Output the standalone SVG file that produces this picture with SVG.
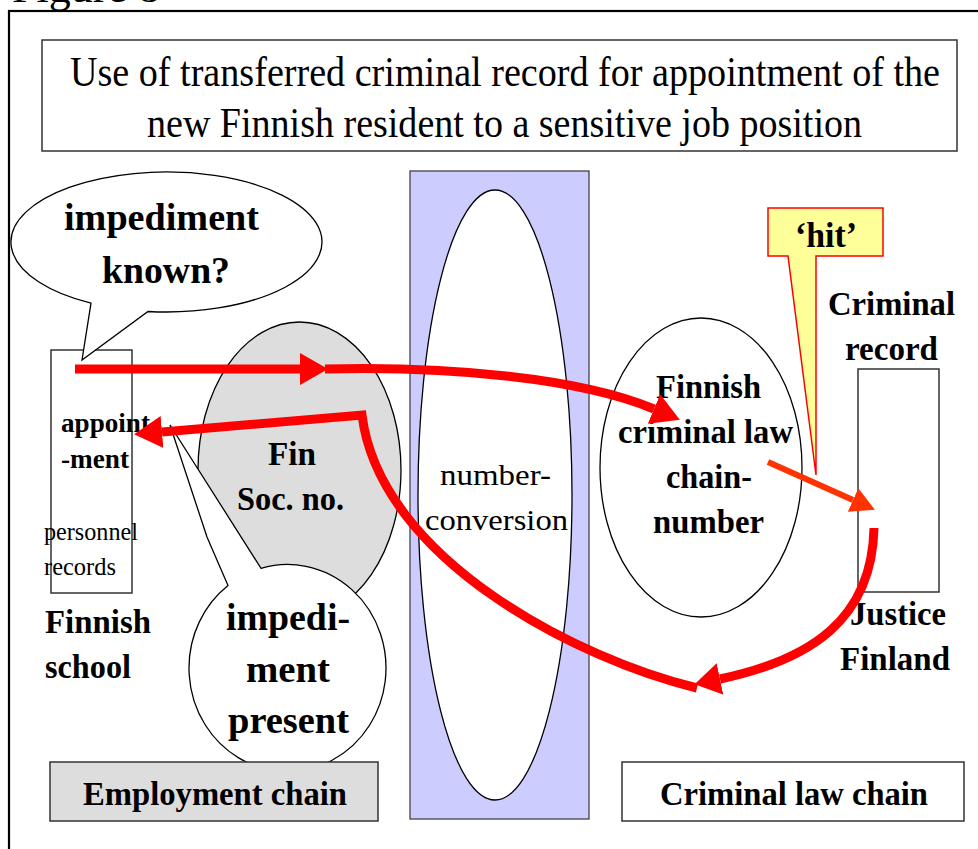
<svg xmlns="http://www.w3.org/2000/svg" width="978" height="849" viewBox="0 0 978 849">
<style>
  text { font-family: "Liberation Serif", "Times New Roman", serif; fill: #000; }
  .b { font-weight: bold; }
  .thin { stroke: #000; stroke-width: 1.3; }
  .box { fill: #fff; stroke: #333; stroke-width: 1.5; }
  .red { fill: none; stroke: #ff0000; stroke-width: 9; stroke-linejoin: miter; }
</style>
<defs>
  <marker id="ah" markerUnits="userSpaceOnUse" viewBox="0 0 28 32" markerWidth="28" markerHeight="32" refX="0" refY="16" orient="auto">
    <path d="M0,0 L28,16 L0,32 Z" fill="#ff0000"/>
  </marker>
  <marker id="ahj" markerUnits="userSpaceOnUse" viewBox="0 0 26 32" markerWidth="26" markerHeight="32" refX="0" refY="16" orient="auto">
    <path d="M0,0 L26,16 L0,32 Z" fill="#ff0000"/>
  </marker>
  <marker id="aho" markerUnits="userSpaceOnUse" viewBox="0 0 24 26" markerWidth="24" markerHeight="26" refX="0" refY="13" orient="auto">
    <path d="M0,0 L24,13 L0,26 Z" fill="#ff3300"/>
  </marker>
</defs>
<rect width="978" height="849" fill="#fff"/>
<text x="12" y="2" font-size="40" textLength="148" lengthAdjust="spacingAndGlyphs">Figure 8</text>
<rect x="9" y="11" width="1000" height="900" fill="none" stroke="#000" stroke-width="2.2"/>

<g id="title">
  <rect class="box" x="42" y="40" width="915" height="111"/>
  <text x="70" y="86" font-size="42" textLength="870" lengthAdjust="spacingAndGlyphs">Use of transferred criminal record for appointment of the</text>
  <text x="147" y="137" font-size="42" textLength="715" lengthAdjust="spacingAndGlyphs">new Finnish resident to a sensitive job position</text>
</g>

<g id="number-conversion">
  <rect x="410" y="171" width="179" height="648" fill="#ccccff" stroke="#444" stroke-width="1.3"/>
  <ellipse cx="495" cy="495" rx="77" ry="305" fill="#fff" class="thin"/>
  <text x="440" y="485" font-size="30" textLength="111" lengthAdjust="spacingAndGlyphs">number-</text>
  <text x="425" y="530" font-size="30" textLength="143" lengthAdjust="spacingAndGlyphs">conversion</text>
</g>

<g id="fin-soc-no">
  <ellipse cx="299.5" cy="470" rx="101.5" ry="148" fill="#dddddd" class="thin"/>
  <text class="b" x="268" y="465" font-size="34" textLength="48" lengthAdjust="spacingAndGlyphs">Fin</text>
  <text class="b" x="237" y="510" font-size="34" textLength="107" lengthAdjust="spacingAndGlyphs">Soc. no.</text>
</g>

<g id="finnish-school">
  <rect class="box" x="51" y="350" width="81" height="243"/>
  <text class="b" x="61" y="432" font-size="28" textLength="89" lengthAdjust="spacingAndGlyphs">appoint</text>
  <text class="b" x="61" y="468" font-size="28" textLength="68" lengthAdjust="spacingAndGlyphs">-ment</text>
  <text x="44" y="540" font-size="25" textLength="94" lengthAdjust="spacingAndGlyphs">personnel</text>
  <text x="44" y="575" font-size="25" textLength="72" lengthAdjust="spacingAndGlyphs">records</text>
  <text class="b" x="45" y="633" font-size="34" textLength="106" lengthAdjust="spacingAndGlyphs">Finnish</text>
  <text class="b" x="45" y="678" font-size="34" textLength="86" lengthAdjust="spacingAndGlyphs">school</text>
</g>

<g id="impediment-known">
  <path d="M148 311.5 A155.5 70 0 1 0 91 303.2 L82 360 Z" fill="#fff" class="thin"/>
  <text class="b" x="64" y="230" font-size="38" textLength="195" lengthAdjust="spacingAndGlyphs">impediment</text>
  <text class="b" x="102" y="283" font-size="38" textLength="128" lengthAdjust="spacingAndGlyphs">known?</text>
</g>

<g id="impediment-present">
  <path d="M261 568.3 A98.5 103.5 0 1 1 228 585.5 L207 537 L170 425 Z" fill="#fff" class="thin"/>
  <text class="b" x="226" y="630" font-size="38" textLength="124" lengthAdjust="spacingAndGlyphs">impedi-</text>
  <text class="b" x="246" y="682" font-size="38" textLength="84" lengthAdjust="spacingAndGlyphs">ment</text>
  <text class="b" x="228" y="733" font-size="38" textLength="121" lengthAdjust="spacingAndGlyphs">present</text>
</g>

<g id="finnish-criminal-law-chain-number">
  <ellipse cx="701" cy="467.5" rx="101" ry="149.5" fill="#fff" class="thin"/>
  <text class="b" x="656" y="398" font-size="34" textLength="105" lengthAdjust="spacingAndGlyphs">Finnish</text>
  <text class="b" x="618" y="443" font-size="34" textLength="175" lengthAdjust="spacingAndGlyphs">criminal law</text>
  <text class="b" x="666" y="488" font-size="34" textLength="86" lengthAdjust="spacingAndGlyphs">chain-</text>
  <text class="b" x="653" y="533" font-size="34" textLength="111" lengthAdjust="spacingAndGlyphs">number</text>
</g>

<g id="hit">
  <path d="M768 208 H883 V256 H816 L816 475 L788 256 H768 Z" fill="#ffff99" stroke="#ff0000" stroke-width="1.5"/>
  <text class="b" x="795" y="247" font-size="36" textLength="62" lengthAdjust="spacingAndGlyphs">‘hit’</text>
</g>

<g id="justice-finland">
  <text class="b" x="828" y="315" font-size="34" textLength="127" lengthAdjust="spacingAndGlyphs">Criminal</text>
  <text class="b" x="845" y="360" font-size="34" textLength="93" lengthAdjust="spacingAndGlyphs">record</text>
  <rect class="box" x="858" y="369" width="81" height="223"/>
  <text class="b" x="850" y="625" font-size="34" textLength="96" lengthAdjust="spacingAndGlyphs">Justice</text>
  <text class="b" x="840" y="670" font-size="34" textLength="110" lengthAdjust="spacingAndGlyphs">Finland</text>
</g>

<g id="employment-chain">
  <rect x="50" y="762" width="328" height="59" fill="#dddddd" stroke="#333" stroke-width="1.5"/>
  <text class="b" x="83" y="805" font-size="34" textLength="264" lengthAdjust="spacingAndGlyphs">Employment chain</text>
</g>

<g id="criminal-law-chain">
  <rect class="box" x="622" y="762" width="342" height="59"/>
  <text class="b" x="660" y="805" font-size="34" textLength="268" lengthAdjust="spacingAndGlyphs">Criminal law chain</text>
</g>

<g id="connectors">
  <path class="red" d="M75 369 L300 369" marker-end="url(#ah)"/>
  <path class="red" d="M325 369 C450 366 580 378 654 409" marker-end="url(#ah)"/>
  <path class="red" d="M697 688 C580 660 380 560 362 415 L162 432" marker-end="url(#ah)"/>
  <path class="red" d="M874 528 C872 620 810 660 720 679" marker-end="url(#ahj)"/>
  <path d="M768 462 L853 500" fill="none" stroke="#ff3300" stroke-width="6" marker-end="url(#aho)"/>
</g>
</svg>
